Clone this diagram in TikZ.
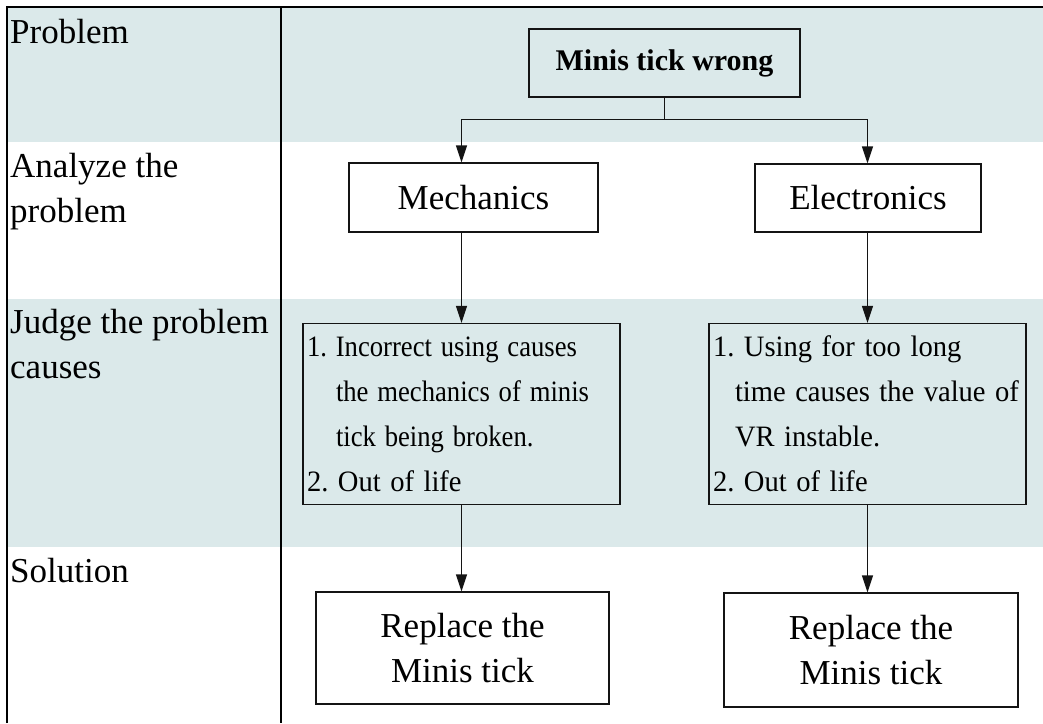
\documentclass[tikz,border=0pt]{standalone}
\usepackage{graphicx}
\usepackage{fontspec}
\setmainfont{Liberation Serif}
\usetikzlibrary{arrows.meta}
\definecolor{band}{RGB}{219,233,234}
\definecolor{ln}{RGB}{20,20,20}
\newcommand{\narrowtext}[1]{\scalebox{0.90}[1]{#1}}
\newcommand{\normtext}[1]{\scalebox{0.965}[1]{#1}}
\begin{document}
\frenchspacing
\begin{tikzpicture}[x=1pt,y=-1pt,
  box/.style={draw=ln, line width=1.3pt, inner sep=0pt, anchor=center},
  lbl/.style={anchor=base west, inner sep=0pt, align=left, font=\fontsize{35}{45}\selectfont},
  big/.style={font=\fontsize{35}{45}\selectfont},
  causebox/.style={box, minimum width=317pt, minimum height=181pt, align=left, text width=309pt, font=\fontsize{29.6}{45}\selectfont},
  conn/.style={draw=ln, line width=1.3pt},
  arr/.style={conn, -{Triangle[length=17pt,width=11pt]}},
  frame/.style={line width=2pt, draw=black}]
\useasboundingbox (0,0) rectangle (1043,723);
\fill[band] (7,7) rectangle (1043,142);
\fill[band] (7,299) rectangle (1043,547);
\draw[frame] (7,723) -- (7,7) -- (1043,7);
\draw[frame] (281,7) -- (281,723);
% row labels
\node[lbl] (l1) at (10,43) {Problem};
\node[lbl] (l2) at (10,222) {Analyze the\\problem};
\node[lbl] (l3) at (10,378) {Judge the problem\\causes};
\node[lbl] (l4) at (10,582) {Solution};
% boxes
\node[box, minimum width=271pt, minimum height=68pt, font=\bfseries\fontsize{30}{36}\selectfont] (top) at (664.5,63) {Minis tick wrong};
\node[box, big, minimum width=249pt, minimum height=69pt] (mech) at (473.5,197.5) {Mechanics};
\node[box, big, minimum width=226pt, minimum height=68pt] (elec) at (868,198) {Electronics};
\node[causebox] (c1) at (461.5,414) {\mbox{\narrowtext{1. Incorrect using causes}}\\
\mbox{\hspace*{29pt}\narrowtext{the mechanics of minis}}\\
\mbox{\hspace*{29pt}\narrowtext{tick being broken.}}\\
\mbox{\normtext{2. Out of life}}};
\node[causebox] (c2) at (867.5,414) {\mbox{\normtext{1. Using for too long}}\\
\mbox{\hspace*{22pt}\normtext{time causes the value of}}\\
\mbox{\hspace*{22pt}\normtext{VR instable.}}\\
\mbox{\normtext{2. Out of life}}};
\node[box, big, align=center, minimum width=293pt, minimum height=112pt] (s1) at (462.5,648) {Replace the\\Minis tick};
\node[box, big, align=center, minimum width=294pt, minimum height=114pt] (s2) at (871,650) {Replace the\\Minis tick};
% connectors
\draw[conn] (top.south) -- ++(0,22) coordinate (j);
\draw[arr] (j) -| (c1.north |- mech.north);
\draw[arr] (j) -| (c2.north |- elec.north);
\draw[arr] (c1.north |- mech.south) -- (c1.north);
\draw[arr] (c2.north |- elec.south) -- (c2.north);
\draw[arr] (c1.south) -- (c1.south |- s1.north);
\draw[arr] (c2.south) -- (c2.south |- s2.north);
\end{tikzpicture}
\end{document}
